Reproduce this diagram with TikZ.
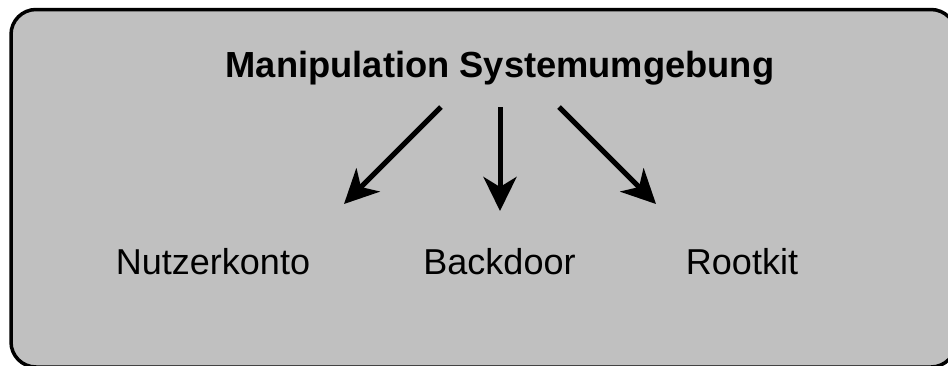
\documentclass[tikz,border=0pt]{standalone}
\usepackage{fontspec}
\setmainfont{Liberation Sans}
\usetikzlibrary{arrows.meta}
\definecolor{panelgray}{RGB}{192,192,192}
\begin{document}
\begin{tikzpicture}[x=1pt,y=-1pt,
  panel/.style={draw=black, fill=panelgray, line width=3.5pt, rounded corners=25pt},
  heading/.style={anchor=base, inner sep=0pt, font=\fontsize{36.3}{44}\selectfont\bfseries},
  item/.style={anchor=base, inner sep=0pt, font=\fontsize{36}{44}\selectfont},
  link/.style={line width=5pt, -{Stealth[length=34pt, width=33pt, inset=10pt]}}]
  \useasboundingbox (0,0) rectangle (948,365);
  % background panel, running off the right and bottom edges
  \begin{scope}
    \clip (0,0) rectangle (948,365);
    \draw[panel] (11,9.5) rectangle (956,367);
  \end{scope}
  % heading and the three items
  \node[heading] (head) at (500,77) {Manipulation Systemumgebung};
  \node[item] (user) at (213,274) {Nutzerkonto};
  \node[item] (back) at (499.5,274) {Backdoor};
  \node[item] (root) at (742,274) {Rootkit};
  % arrow ends
  \coordinate (s1) at (441,107);
  \coordinate (s2) at (500,107);
  \coordinate (s3) at (559,107);
  \coordinate (e1) at (344,204);
  \coordinate (e2) at (500,211);
  \coordinate (e3) at (656,204);
  \draw[link] (s1) -- (e1);
  \draw[link] (s2) -- (e2);
  \draw[link] (s3) -- (e3);
\end{tikzpicture}
\end{document}
